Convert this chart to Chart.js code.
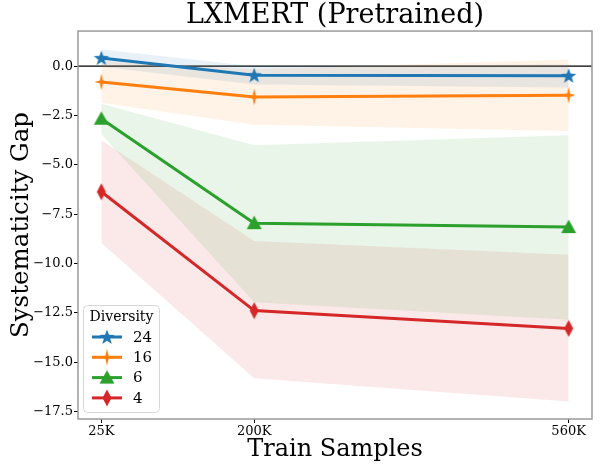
<!DOCTYPE html>
<html>
<head>
<meta charset="utf-8">
<script src="https://cdn.jsdelivr.net/npm/chart.js@4.4.1/dist/chart.umd.min.js"></script>
<style>
  body { margin: 0; background: #fff; }
  canvas { display: block; }
</style>
</head>
<body>
<canvas id="gapChart" width="602" height="467"></canvas>
<script>
// Data
var sampleSizes = [25000, 200000, 560000];
var xTickLabels = ["25K", "200K", "560K"];
var yTicks = [-17.5, -15, -12.5, -10, -7.5, -5, -2.5, 0];
var diversityLabels = ["24", "16", "6", "4"];

var gap24 = [0.41, -0.46, -0.49];
var gap24Upper = [0.85, 0.0, 0.09];
var gap24Lower = [-0.03, -0.93, -1.08];

var gap16 = [-0.80, -1.56, -1.47];
var gap16Upper = [0.25, -0.16, 0.34];
var gap16Lower = [-1.85, -2.96, -3.28];

var gap6 = [-2.66, -7.95, -8.15];
var gap6Upper = [-1.90, -4.01, -3.50];
var gap6Lower = [-3.45, -11.96, -12.84];

var gap4 = [-6.36, -12.38, -13.28];
var gap4Upper = [-3.75, -8.86, -9.55];
var gap4Lower = [-8.95, -15.81, -16.98];

var colors = ["#1f77b4", "#ff7f0e", "#2ca02c", "#d62728"];
var fills = ["rgba(31,119,180,0.1)", "rgba(255,127,14,0.1)", "rgba(44,160,44,0.1)", "rgba(214,39,40,0.1)"];
var serif = "'DejaVu Serif', 'Liberation Serif', serif";

// marker pictures (matplotlib-like shapes)
function makeMarker(shape, color) {
  var c = document.createElement('canvas');
  c.width = 18; c.height = 18;
  var ctx = c.getContext('2d');
  ctx.fillStyle = color;
  ctx.beginPath();
  var cx = 9, cy = 9, i, a, r;
  if (shape === 'star5') {
    for (i = 0; i < 10; i++) {
      r = i % 2 === 0 ? 8 : 3.3;
      a = -Math.PI / 2 + i * Math.PI / 5;
      ctx.lineTo(cx + r * Math.cos(a), cy + 0.5 + r * Math.sin(a));
    }
  } else if (shape === 'star4') {
    for (i = 0; i < 8; i++) {
      a = -Math.PI / 2 + i * Math.PI / 4;
      var rx = i % 2 === 0 ? 7 : 2.2;
      var ry = i % 2 === 0 ? 8.5 : 2.2;
      ctx.lineTo(cx + rx * Math.cos(a), cy + ry * Math.sin(a));
    }
  } else if (shape === 'triangle') {
    ctx.moveTo(cx, cy - 7.5);
    ctx.lineTo(cx + 7.5, cy + 6);
    ctx.lineTo(cx - 7.5, cy + 6);
  } else {
    ctx.moveTo(cx, cy - 8.5);
    ctx.lineTo(cx + 4.5, cy);
    ctx.lineTo(cx, cy + 8.5);
    ctx.lineTo(cx - 4.5, cy);
  }
  ctx.closePath();
  ctx.fill();
  return c;
}

var markers = [
  makeMarker('star5', colors[0]),
  makeMarker('star4', colors[1]),
  makeMarker('triangle', colors[2]),
  makeMarker('thin', colors[3])
];

function pts(values) {
  return sampleSizes.map(function (x, i) { return { x: x, y: values[i] }; });
}

var means = [gap24, gap16, gap6, gap4];
var uppers = [gap24Upper, gap16Upper, gap6Upper, gap4Upper];
var lowers = [gap24Lower, gap16Lower, gap6Lower, gap4Lower];

var datasets = [];
// bands first (upper fills down to the next dataset = lower)
for (var k = 0; k < 4; k++) {
  datasets.push({
    label: 'band' + k, data: pts(uppers[k]), borderWidth: 0, pointRadius: 0,
    backgroundColor: fills[k], fill: '+1', order: 20 + k, band: true
  });
  datasets.push({
    label: 'bandlow' + k, data: pts(lowers[k]), borderWidth: 0, pointRadius: 0,
    fill: false, order: 20 + k, band: true
  });
}
for (k = 0; k < 4; k++) {
  datasets.push({
    label: diversityLabels[k], data: pts(means[k]), borderColor: colors[k],
    backgroundColor: colors[k], borderWidth: 3, pointStyle: markers[k],
    pointRadius: 7, fill: false, order: 4 - k, marker: markers[k]
  });
}

var framePlugin = {
  id: 'frame',
  beforeDatasetsDraw: function (chart) {
    var ctx = chart.ctx, a = chart.chartArea;
    var y0 = chart.scales.y.getPixelForValue(0);
    ctx.save();
    ctx.strokeStyle = '#000';
    ctx.lineWidth = 1.2;
    ctx.beginPath();
    ctx.moveTo(a.left, y0);
    ctx.lineTo(a.right, y0);
    ctx.stroke();
    ctx.restore();
  },
  afterDraw: function (chart) {
    var ctx = chart.ctx, a = chart.chartArea;
    ctx.save();
    ctx.strokeStyle = '#9a9a9a';
    ctx.lineWidth = 1.5;
    ctx.strokeRect(a.left, a.top, a.right - a.left, a.bottom - a.top);

    // legend, lower left
    var bx = a.left + 5, by = a.bottom - 114, bw = 76, bh = 107;
    ctx.fillStyle = 'rgba(255,255,255,0.8)';
    ctx.strokeStyle = '#d6d6d6';
    ctx.lineWidth = 1;
    ctx.beginPath();
    ctx.roundRect(bx + 0.5, by + 0.5, bw, bh, 4);
    ctx.fill();
    ctx.stroke();
    ctx.fillStyle = '#000';
    ctx.textBaseline = 'middle';
    ctx.textAlign = 'center';
    ctx.font = '14px ' + serif;
    ctx.fillText('Diversity', bx + bw / 2 + 0.5, by + 12);
    ctx.textAlign = 'left';
    ctx.font = '15px ' + serif;
    var lines = chart.data.datasets.filter(function (d) { return !d.band; });
    lines.forEach(function (d, i) {
      var ly = by + 32 + i * 20.3;
      ctx.strokeStyle = d.borderColor;
      ctx.lineWidth = 3;
      ctx.beginPath();
      ctx.moveTo(bx + 9, ly);
      ctx.lineTo(bx + 39, ly);
      ctx.stroke();
      ctx.drawImage(d.marker, bx + 24 - 9, ly - 9);
      ctx.fillStyle = '#000';
      ctx.fillText(d.label, bx + 50, ly + 1);
    });
    ctx.restore();
  }
};

new Chart(document.getElementById('gapChart'), {
  type: 'line',
  data: { datasets: datasets },
  options: {
    responsive: false,
    animation: false,
    layout: { padding: { left: 0, right: 4, top: 0, bottom: 0 } },
    plugins: {
      legend: { display: false },
      tooltip: { enabled: false },
      title: {
        display: true,
        fullSize: false,
        text: 'LXMERT (Pretrained)',
        color: '#000',
        font: { family: serif, size: 27, weight: 'normal', lineHeight: 1.15 },
        padding: { top: 0, bottom: 0 }
      }
    },
    scales: {
      x: {
        type: 'linear',
        min: -1750,
        max: 586750,
        afterFit: function (s) { s.height = 48; },
        afterBuildTicks: function (s) {
          s.ticks = sampleSizes.map(function (v) { return { value: v }; });
        },
        ticks: {
          color: '#000',
          padding: 1,
          maxRotation: 0,
          font: { family: serif, size: 13 },
          callback: function (v, i) { return xTickLabels[i]; }
        },
        grid: { display: true, drawOnChartArea: false, drawTicks: true, tickLength: 4, color: '#000' },
        border: { display: false },
        title: {
          display: true,
          text: 'Train Samples',
          color: '#000',
          font: { family: serif, size: 24 },
          padding: { top: 0, bottom: 3 }
        }
      },
      y: {
        min: -17.87,
        max: 1.78,
        afterFit: function (s) { s.width = 78; },
        afterBuildTicks: function (s) {
          s.ticks = yTicks.map(function (v) { return { value: v }; });
        },
        ticks: {
          color: '#000',
          padding: 1,
          font: { family: serif, size: 13 },
          callback: function (v) { return v.toFixed(1).replace('-', '\u2212'); }
        },
        grid: { display: true, drawOnChartArea: false, drawTicks: true, tickLength: 4, color: '#000' },
        border: { display: false },
        title: {
          display: true,
          text: 'Systematicity Gap',
          color: '#000',
          font: { family: serif, size: 24.5 },
          padding: { top: 7, bottom: 0 }
        }
      }
    }
  },
  plugins: [framePlugin]
});
</script>
</body>
</html>
